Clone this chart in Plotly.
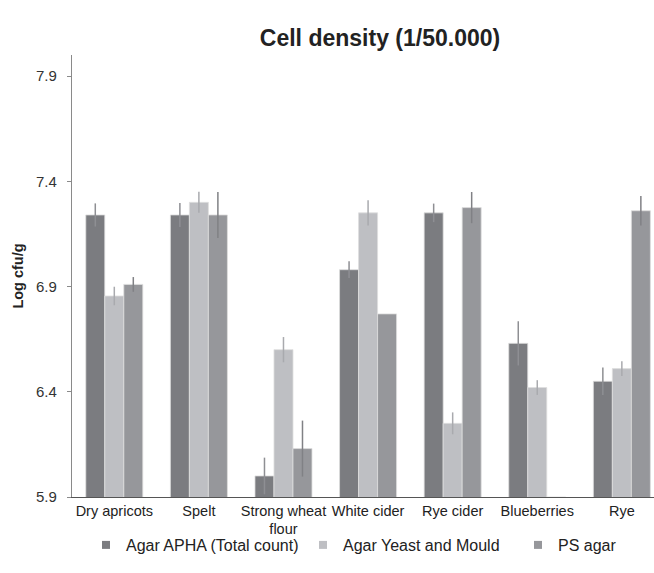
import plotly.graph_objects as go

categories = ["Dry apricots", "Spelt", "Strong wheat<br>flour", "White cider", "Rye cider", "Blueberries", "Rye"]
series_names = ["Agar APHA (Total count)", "Agar Yeast and Mould", "PS agar"]
apha = [7.24, 7.24, 6.00, 6.98, 7.25, 6.63, 6.45]
apha_err = [0.055, 0.057, 0.087, 0.04, 0.044, 0.105, 0.065]
yeast = [6.855, 7.30, 6.60, 7.25, 6.25, 6.42, 6.51]
yeast_err = [0.044, 0.05, 0.06, 0.06, 0.052, 0.035, 0.035]
ps = [6.91, 7.24, 6.13, 6.77, 7.275, 5.9, 7.26]
ps_err = [0.035, 0.109, 0.133, 0.0, 0.074, 0.0, 0.07]
y_ticks = [5.9, 6.4, 6.9, 7.4, 7.9]

colors = ["#7b7c80", "#bebfc3", "#96979b"]
err_colors = ["#8e8f93", "#a9aaae", "#808185"]
values = [apha, yeast, ps]
errors = [apha_err, yeast_err, ps_err]

FONT = "Liberation Sans, Arial, sans-serif"
fig = go.Figure()
for name, v, e, c, ec in zip(series_names, values, errors, colors, err_colors):
    fig.add_trace(go.Bar(
        x=categories, y=v, name=name, showlegend=False,
        marker=dict(color=c, line=dict(color="#dedede", width=0.8)),
        error_y=dict(type="data", array=e, visible=True, width=0, thickness=1.5, color=ec),
    ))

legend_ids = ["legend", "legend2", "legend3"]
legend_left_px = [86, 303, 518]
for name, c, lid in zip(series_names, colors, legend_ids):
    fig.add_trace(go.Scatter(
        x=[categories[0]], y=[None], mode="markers", name=name, legend=lid,
        marker=dict(symbol="square", size=8, color=c),
    ))

L, R, T, B = 72, 0, 55, 76
W, H = 654, 573
pw = W - L - R
ph = H - T - B

def legend_cfg(px):
    return dict(orientation="h", x=(px - L) / pw, xanchor="left",
                y=-(545 - (H - B)) / ph, yanchor="middle",
                font=dict(size=16, color="#222222"), itemclick=False,
                bgcolor="rgba(0,0,0,0)", borderwidth=0)

fig.update_layout(
    width=W, height=H,
    margin=dict(l=L, r=R, t=T, b=B),
    paper_bgcolor="white", plot_bgcolor="white",
    barmode="group", bargap=0.326, bargroupgap=0,
    font=dict(family=FONT, size=14, color="#222222"),
    title=dict(text="<b>Cell density (1/50.000)</b>", x=380 / W, xanchor="center",
               y=1 - 38 / H, yanchor="middle", font=dict(size=23, color="#222222")),
    legend=legend_cfg(legend_left_px[0]),
    legend2=legend_cfg(legend_left_px[1]),
    legend3=legend_cfg(legend_left_px[2]),
    showlegend=True,
)
fig.update_xaxes(
    range=[-0.5, 6.38], showline=True, linecolor="#555555", linewidth=1.2,
    ticks="", showgrid=False, tickfont=dict(size=14.5, color="#222222"),
)
fig.update_yaxes(
    range=[5.9, 8.0], tickvals=y_ticks, ticktext=[f"{t:.1f}" for t in y_ticks],
    showline=True, linecolor="#8a8a8a", linewidth=1.2,
    ticks="outside", ticklen=4, tickcolor="#8a8a8a", showgrid=False, zeroline=False,
    ticklabelstandoff=7,
    tickfont=dict(size=15, color="#333333"),
    title=dict(text="<b>Log cfu/g</b>", font=dict(size=14.5, color="#222222"), standoff=8),
)
fig.write_html("out.html", post_script="document.body.style.margin='0';",
               config={"displayModeBar": False})
